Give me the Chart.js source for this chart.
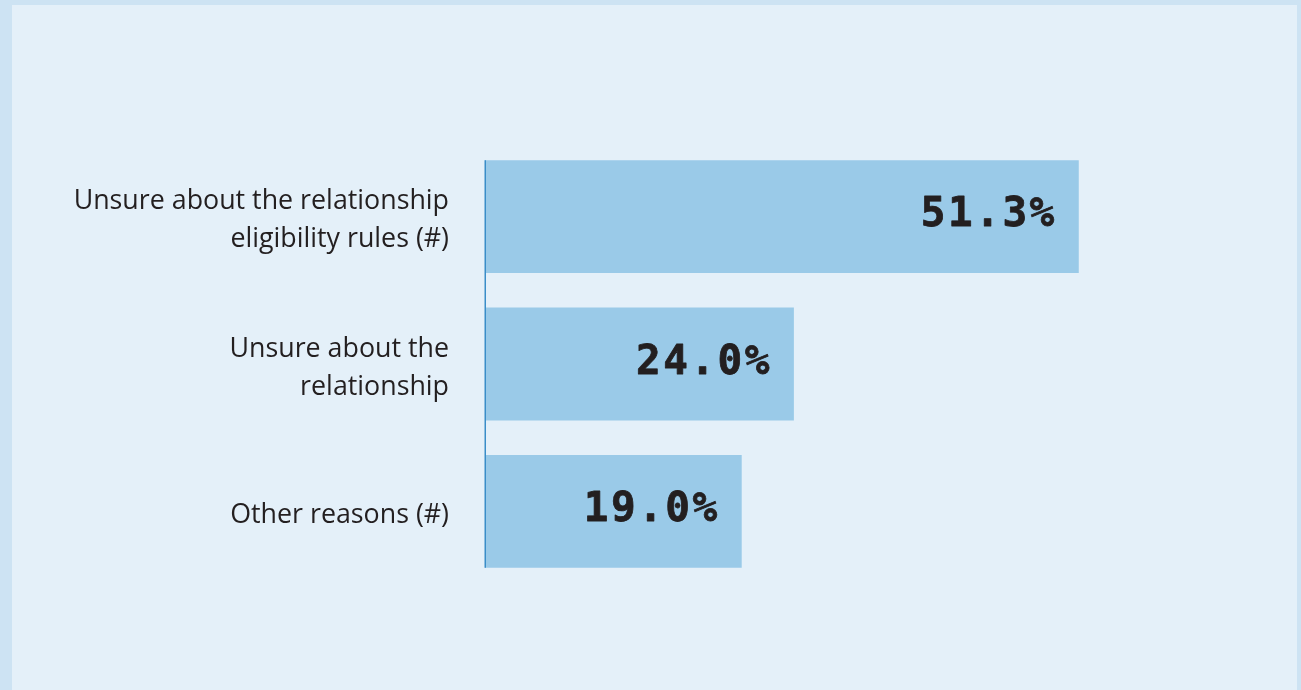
<!DOCTYPE html>
<html>
<head>
<meta charset="utf-8">
<script src="https://cdn.jsdelivr.net/npm/chart.js@4.4.1/dist/chart.umd.min.js"></script>
<style>
  html, body { margin: 0; padding: 0; }
  body { width: 1301px; height: 690px; background: #cde3f3; position: relative; overflow: hidden; }
  #panel { position: absolute; left: 12px; top: 5px; width: 1285px; height: 685px; background: #e4f0f9; }
  #chart { display: block; }
</style>
</head>
<body>
<div id="panel"><canvas id="chart" width="1285" height="685"></canvas></div>
<script>
// Reasons given, shown as horizontal bars
const categories = [
  ['Unsure about the relationship', 'eligibility rules (#)'],
  ['Unsure about the', 'relationship'],
  ['Other reasons (#)']
];
const shares = [51.3, 24.0, 19.0];

const BAR_COLOR = '#9acae8';
const AXIS_COLOR = '#3a8dc8';
const TEXT_COLOR = '#231f20';
const SCALE_MIN = -5.6;

// Prints the percentage inside the end of each bar and the baseline beside the bars
const barDecorations = {
  id: 'barDecorations',
  afterDatasetsDraw(chart) {
    const ctx = chart.ctx;
    const meta = chart.getDatasetMeta(0);
    const bars = meta.data;
    ctx.save();
    // value labels, slightly thickened bold monospace
    ctx.fillStyle = TEXT_COLOR;
    ctx.strokeStyle = TEXT_COLOR;
    ctx.lineWidth = 0.8;
    ctx.lineJoin = 'round';
    ctx.font = 'bold 41px "DejaVu Sans Mono"';
    ctx.letterSpacing = '2.5px';
    ctx.textAlign = 'right';
    ctx.textBaseline = 'middle';
    bars.forEach((bar, i) => {
      const v = chart.data.datasets[0].data[i];
      const label = v.toFixed(1) + '%';
      ctx.fillText(label, bar.x - 22, bar.y - 1);
      ctx.strokeText(label, bar.x - 22, bar.y - 1);
    });
    ctx.letterSpacing = '0px';
    // baseline spanning the bars
    const first = bars[0], last = bars[bars.length - 1];
    const x0 = chart.scales.x.getPixelForValue(SCALE_MIN);
    ctx.strokeStyle = AXIS_COLOR;
    ctx.lineWidth = 1.5;
    ctx.beginPath();
    ctx.moveTo(x0 + 0.25, first.y - first.height / 2);
    ctx.lineTo(x0 + 0.25, last.y + last.height / 2);
    ctx.stroke();
    ctx.restore();
  }
};

new Chart(document.getElementById('chart'), {
  type: 'bar',
  data: {
    labels: categories,
    datasets: [{
      data: shares,
      base: SCALE_MIN,
      backgroundColor: BAR_COLOR,
      borderWidth: 0,
      barPercentage: 0.766,
      categoryPercentage: 1.0
    }]
  },
  options: {
    indexAxis: 'y',
    responsive: false,
    animation: false,
    events: [],
    layout: { padding: { top: 138, bottom: 105, left: 0, right: 45 } },
    plugins: {
      legend: { display: false },
      tooltip: { enabled: false }
    },
    scales: {
      x: {
        display: false,
        min: SCALE_MIN,
        max: 67.9
      },
      y: {
        grid: { display: false, drawTicks: false },
        border: { display: false },
        afterFit(scale) { scale.width = 473; },
        ticks: {
          padding: 36,
          labelOffset: 4,
          color: TEXT_COLOR,
          font: { family: '"Open Sans", "Noto Sans", sans-serif', size: 26.8, lineHeight: 1.42 },
          crossAlign: 'near'
        }
      }
    }
  },
  plugins: [barDecorations]
});
</script>
</body>
</html>
